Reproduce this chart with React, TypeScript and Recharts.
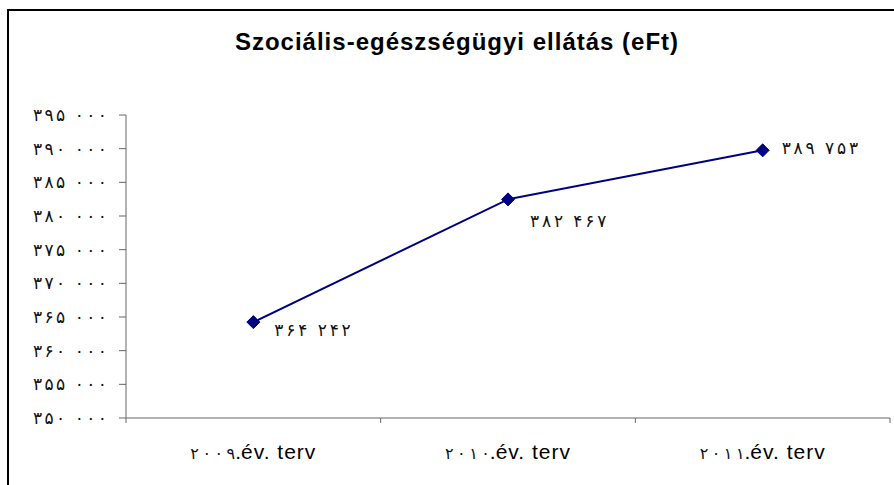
import React from "react";
import { LineChart, Line, XAxis, YAxis } from "recharts";

const categories = ["۲۰۰۹.év. terv", "۲۰۱۰.év. terv", "۲۰۱۱.év. terv"];
const values = [364242, 382467, 389753];
const valueLabels = ["۳۶۴ ۲۴۲", "۳۸۲ ۴۶۷", "۳۸۹ ۷۵۳"];
const yTicks = [350000, 355000, 360000, 365000, 370000, 375000, 380000, 385000, 390000, 395000];
const yTickLabels = ["۳۵۰ ۰۰۰", "۳۵۵ ۰۰۰", "۳۶۰ ۰۰۰", "۳۶۵ ۰۰۰", "۳۷۰ ۰۰۰", "۳۷۵ ۰۰۰", "۳۸۰ ۰۰۰", "۳۸۵ ۰۰۰", "۳۹۰ ۰۰۰", "۳۹۵ ۰۰۰"];
const labelOffsets = [
  [21, 8],
  [22, 22],
  [19, -2],
];

const data = categories.map((c, i) => ({ name: c, value: values[i] }));

const FONT = "'Liberation Sans', Arial, 'DejaVu Sans', sans-serif";
const AXIS_COLOR = "#666666";
const LINE_COLOR = "#000080";

const spaced = (s: string, gap: number, keyPrefix: string) =>
  Array.from(s).map((ch, i) => (
    <tspan key={keyPrefix + i} dx={i === 0 ? 0 : gap}>
      {ch}
    </tspan>
  ));

const Diamond = (props: any) => {
  const { cx, cy } = props;
  if (cx == null || cy == null) return null;
  const r = 6.5;
  return (
    <path
      d={`M${cx},${cy - r} L${cx + r},${cy} L${cx},${cy + r} L${cx - r},${cy} Z`}
      fill={LINE_COLOR}
      stroke={LINE_COLOR}
    />
  );
};

const ValueLabel = (props: any) => {
  const { x, y, index } = props;
  const [dx, dy] = labelOffsets[index] || [20, 0];
  return (
    <text
      x={x + dx}
      y={y + dy}
      dominantBaseline="central"
      textAnchor="start"
      fontFamily={FONT}
      fontSize={17}
      fill="#111"
    >
      {spaced(valueLabels[index] || "", 2.8, "v")}
    </text>
  );
};

const XTick = (props: any) => {
  const { x, y, payload, index, visibleTicksCount, width } = props;
  const half =
    payload && payload.offset ? payload.offset : width / (visibleTicksCount || 3) / 2;
  const axisY = y - 8;
  const label: string = String(payload.value);
  const m = label.match(/^([۰-۹]+)(.*)$/);
  const digits = m ? m[1] : "";
  const rest = m ? m[2] : label;
  return (
    <g>
      <line x1={x - half} y1={axisY} x2={x - half} y2={axisY + 5} stroke={AXIS_COLOR} />
      {index === visibleTicksCount - 1 ? (
        <line x1={x + half} y1={axisY} x2={x + half} y2={axisY + 5} stroke={AXIS_COLOR} />
      ) : null}
      <text
        x={x}
        y={y + 33}
        textAnchor="middle"
        fontFamily={FONT}
        fontSize={21}
        fill="#000"
      >
        <tspan fontSize={16} fill="#111">{spaced(digits, 3.5, "d")}</tspan>
        <tspan letterSpacing={1}>{rest}</tspan>
      </text>
    </g>
  );
};

const YTick = (props: any) => {
  const { x, y, payload } = props;
  const i = yTicks.indexOf(payload.value);
  return (
    <text
      x={x}
      y={y}
      textAnchor="end"
      dominantBaseline="central"
      fontFamily={FONT}
      fontSize={17}
      fill="#111"
    >
      {spaced(yTickLabels[i] || "", 2.4, "y")}
    </text>
  );
};

export default function App() {
  return (
    <div style={{ position: "absolute", left: 0, top: 0, width: 894, height: 485, overflow: "hidden", background: "#fff" }}>
      <div
        style={{
          position: "absolute",
          left: 7,
          top: 9,
          width: 900,
          height: 500,
          border: "2px solid #000",
          boxSizing: "border-box",
        }}
      />
      <div
        style={{
          position: "absolute",
          left: 0,
          top: 27,
          width: 914,
          lineHeight: "30px",
          textAlign: "center",
          fontFamily: FONT,
          fontWeight: "bold",
          fontSize: 24,
          letterSpacing: 1,
          color: "#000",
        }}
      >
        Szociális-egészségügyi ellátás (eFt)
      </div>
      <div style={{ position: "absolute", left: 0, top: 0 }}>
        <LineChart width={894} height={485} data={data} margin={{ top: 115, right: 4, bottom: 27, left: 8 }}>
          <XAxis
            dataKey="name"
            scale="band"
            axisLine={{ stroke: AXIS_COLOR }}
            tickLine={false}
            tick={<XTick />}
            interval={0}
            height={40}
          />
          <YAxis
            domain={[350000, 395000]}
            ticks={yTicks}
            width={118}
            axisLine={{ stroke: AXIS_COLOR }}
            tickLine={{ stroke: AXIS_COLOR }}
            tickSize={7}
            tickMargin={12}
            tick={<YTick />}
            interval={0}
            allowDataOverflow
          />
          <Line
            dataKey="value"
            stroke={LINE_COLOR}
            strokeWidth={2}
            dot={<Diamond />}
            activeDot={false}
            label={<ValueLabel />}
            isAnimationActive={false}
          />
        </LineChart>
      </div>
    </div>
  );
}
